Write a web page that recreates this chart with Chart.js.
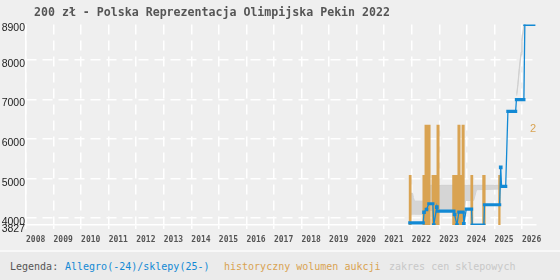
<!DOCTYPE html>
<html><head><meta charset="utf-8">
<script src="https://cdn.jsdelivr.net/npm/chart.js@4.4.1/dist/chart.umd.min.js"></script>
<style>
html,body{margin:0;padding:0;background:#efefef;width:560px;height:280px;overflow:hidden}
#wrap{position:relative;width:560px;height:250px}
#title{position:absolute;left:34px;top:5px;font:bold 11.6px "DejaVu Sans Mono",monospace;color:#555;white-space:pre;line-height:14px}
#legend{position:absolute;left:0;top:250px;width:560px;height:28px;border-top:2px solid #f8f8f8;background:#ebebeb;font:10px "DejaVu Sans Mono",monospace;white-space:pre}
#legend span{position:absolute;top:9px;line-height:12px}
</style>
</head><body>
<div id="wrap">
<canvas id="c" width="560" height="250"></canvas>
<div id="title">200 zł - Polska Reprezentacja Olimpijska Pekin 2022</div>
</div>
<div id="legend"><span style="left:10px;color:#555">Legenda:</span><span style="left:65px;color:#1289d4">Allegro(-24)/sklepy(25-)</span><span style="left:224px;color:#d9a352">historyczny wolumen aukcji</span><span style="left:389px;color:#c8c8c8">zakres cen sklepowych</span></div>
<script>
// ---- data ----
const yearTicks = [2008,2009,2010,2011,2012,2013,2014,2015,2016,2017,2018,2019,2020,2021,2022,2023,2024,2025,2026];
const priceTicks = [3827,4000,5000,6000,7000,8000,8900];
const volumeTicks = [2];

// Allegro / shops price (zł)
const priceDates = [2021.93,2022.417,2022.446,2022.536,2022.62,2022.766,2022.80,2022.91,2022.93,2023.53,2023.555,2023.64,2023.71,2023.87,2023.89,2023.98,2024.17,2024.195,2024.617,2024.64,2025.19,2025.23,2025.26,2025.41,2025.49,2025.77,2025.80,2026.07,2026.105,2026.43];
const priceValues = [3880,3880,4150,4220,4365,4365,3827,4280,4177,4177,4093,3827,4152,4152,3857,4228,4228,3827,3827,4339,4339,5285,4803,4803,6700,6700,7000,7000,8900,8900];

// historical auction volume
const volumeDates = [2021.884,2021.993,2022.39,2022.465,2022.683,2022.72,2022.90,2023.01,2023.47,2023.66,2023.77,2023.81,2023.92,2024.13,2024.23,2024.56,2024.68,2025.14,2025.23];
const volumeCounts = [1,0,1,2,0,1,2,0,1,2,1,2,0,1,0,1,0,1,0];

// shop price range
const shopDates = [2021.95,2022.03,2022.06,2022.10,2022.42,2022.47,2023.90,2023.95,2024.25,2024.35,2025.25,2025.5,2025.81,2025.85,2025.91,2025.97,2026.0,2026.05,2026.08];
const shopHigh = [4630,4630,4520,4430,4430,4830,4830,4830,4830,4830,4830,null,7150,7380,7850,8200,8520,8780,8900];
const shopLow  = [4100,4100,4100,4100,4100,4200,4200,4450,4450,4720,4740,null,7100,7340,7790,8140,8470,8730,8880];

const zip = (xs, ys) => xs.map((x, i) => ({x: x, y: ys[i]}));

const BLUE = '#1289d4', ORANGE = '#d9a352', GRID = '#ffffff';

new Chart(document.getElementById('c'), {
  type: 'line',
  data: {
    datasets: [
      {label: 'shopLow', data: zip(shopDates, shopLow), borderColor: '#d0d0d0', borderWidth: 1, pointRadius: 0, fill: false, spanGaps: false, order: 3},
      {label: 'zakres cen sklepowych', data: zip(shopDates, shopHigh), borderColor: '#d0d0d0', borderWidth: 1, pointRadius: 0, fill: '-1', backgroundColor: '#d5d5d5', spanGaps: false, order: 2},
      {label: 'historyczny wolumen aukcji', data: zip(volumeDates, volumeCounts), yAxisID: 'y2', stepped: true, borderWidth: 0, borderColor: ORANGE, backgroundColor: ORANGE, pointRadius: 0, fill: 'origin', order: 1},
      {label: 'Allegro(-24)/sklepy(25-)', data: zip(priceDates, priceValues), borderColor: BLUE, backgroundColor: BLUE, borderWidth: 1.3, borderCapStyle: 'square',
        fill: false, pointStyle: 'rect', pointBorderWidth: 0, order: 0,
        segment: {borderWidth: ctx => ctx.p0.parsed.y === ctx.p1.parsed.y ? 3.2 : 1.3},
        pointRadius: ctx => {
          const d = ctx.dataset.data, i = ctx.dataIndex;
          const flat = (a, b) => d[a] && d[b] && d[a].y === d[b].y;
          return (flat(i - 1, i) || flat(i, i + 1)) ? 0 : 2.6;
        }}
    ]
  },
  options: {
    responsive: false, devicePixelRatio: 1, animation: false, events: [],
    layout: {padding: {top: 24.5, right: 24, bottom: 0, left: 0}},
    plugins: {legend: {display: false}, tooltip: {enabled: false}, title: {display: false}},
    scales: {
      x: {
        type: 'linear', min: 2008, max: 2026.51,
        afterBuildTicks: s => { s.ticks = yearTicks.map(v => ({value: v})); },
        afterFit: s => { s.height = 25; },
        ticks: {autoSkip: false, maxRotation: 0, align: 'start', padding: 6, color: '#555',
          font: {family: 'DejaVu Sans Mono', size: 8, weight: 'bold'}, callback: v => String(v)},
        grid: {color: GRID, lineWidth: 1.5, drawTicks: true, tickLength: 4, tickColor: GRID, tickWidth: 1.5},
        border: {display: true, color: GRID, width: 1.5, dash: [10, 6]}
      },
      y: {
        type: 'linear', position: 'left', min: 3827, max: 8900,
        afterBuildTicks: s => { s.ticks = priceTicks.map(v => ({value: v})); },
        afterFit: s => { s.width = 26; },
        ticks: {padding: 1, labelOffset: 4, color: '#222', font: {family: 'Liberation Sans', size: 10.5}, callback: v => String(v)},
        grid: {color: c => (c.tick && (c.tick.value === 3827 || c.tick.value === 8900)) ? 'rgba(0,0,0,0)' : GRID, lineWidth: 1.5, drawTicks: false},
        border: {display: true, color: GRID, width: 1.5, dash: [10, 6]}
      },
      y2: {
        type: 'linear', position: 'right', min: 0, max: 4,
        afterBuildTicks: s => { s.ticks = volumeTicks.map(v => ({value: v})); },
        afterFit: s => { s.width = 0; },
        ticks: {mirror: true, padding: 0, labelOffset: 4, color: ORANGE, font: {family: 'Liberation Sans', size: 11}, callback: v => String(v)},
        grid: {display: false, drawTicks: false},
        border: {display: false}
      }
    }
  }
});
</script>
</body></html>
